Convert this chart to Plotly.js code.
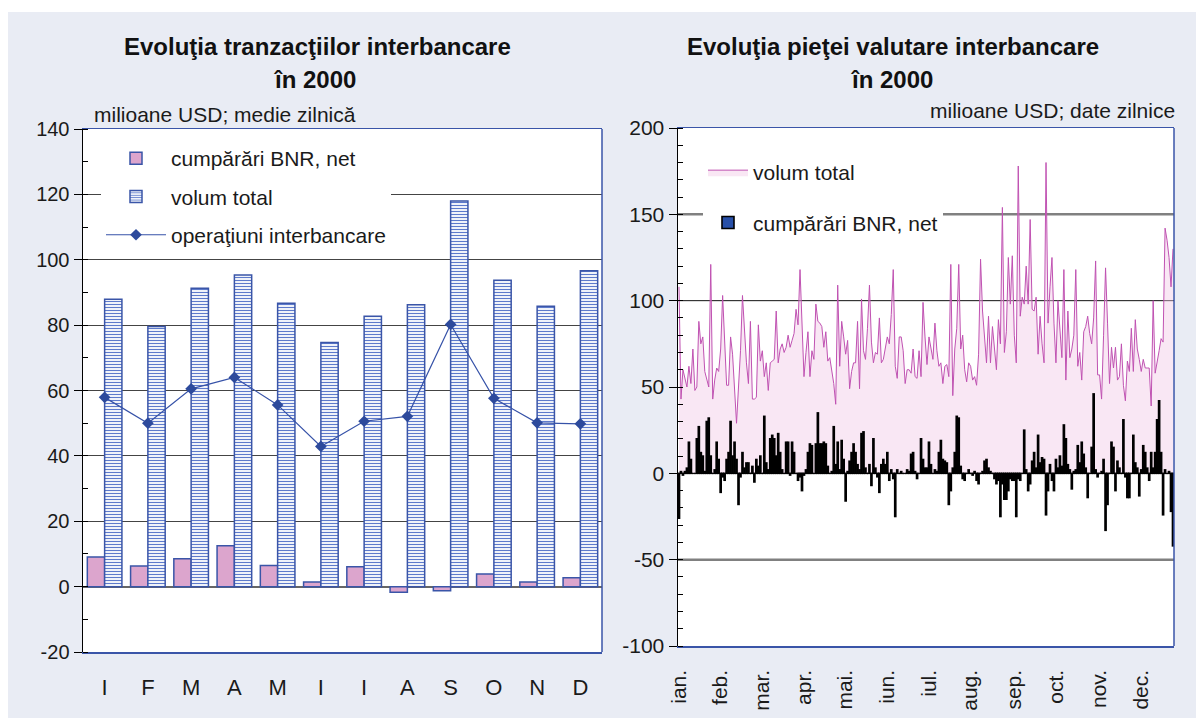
<!DOCTYPE html>
<html><head><meta charset="utf-8">
<script src="https://cdn.plot.ly/plotly-3.0.1.min.js"></script>
<style>html,body{margin:0;padding:0;background:#fff}#chart{width:1196px;height:718px}</style>
</head><body><div id="chart"></div>
<script>
// ---- Left chart: monthly averages ----
const monthsLeft = ['I','F','M','A','M','I','I','A','S','O','N','D'];
const bnrMonthly = [9.1,6.3,8.5,12.5,6.5,1.4,6.1,-1.7,-1.3,3.9,1.4,2.7];
const volMonthly = [87.9,79.6,91.3,95.3,86.7,74.7,82.7,86.2,118,93.7,85.8,96.6];
const interbankMonthly = [57.9,50.0,60.5,64.0,55.6,42.9,50.6,52.1,80.2,57.6,50.1,49.8];
const yTicksLeft = [-20,0,20,40,60,80,100,120,140];

// ---- Right chart: daily data ----
const monthLabels = ['ian.','feb.','mar.','apr.','mai.','iun.','iul.','aug.','sep.','oct.','nov.','dec.'];
const monthDays = [21,21,21,21,21,21,21,22,21,22,21,17];
const yTicksRight = [-100,-50,0,50,100,150,200];
const volDaily = [
108,43,60,54,50,62,52,72,48,50,88,75,79,59,54,50,121,43,54,61,59,72,103,79,51,51,79,69,50,29,50,71,103,80,64,52,88,43,43,44,86,65,71,56,64,48,64,65,66,94,
64,72,75,70,73,80,73,77,81,95,86,118,90,56,70,82,56,71,66,98,88,87,85,73,82,65,67,60,52,40,109,62,88,79,69,77,49,59,64,64,88,49,101,71,66,84,109,76,64,70,
69,90,64,66,72,79,75,92,118,62,55,79,79,71,52,60,60,58,72,56,55,71,56,99,79,63,79,72,66,87,71,62,64,52,62,63,56,121,45,72,84,121,72,80,60,53,64,62,54,56,
51,69,124,94,80,64,91,64,85,71,60,89,75,154,70,82,125,98,126,80,64,178,91,102,98,120,98,147,95,94,102,69,91,75,64,180,87,108,125,87,64,100,81,67,118,54,94,67,72,80,
118,62,70,54,82,85,91,81,75,90,123,57,57,43,80,119,87,52,73,61,73,54,56,75,51,42,65,59,84,59,89,72,66,59,66,61,61,61,39,100,58,66,71,78,76,142,135,125,108,130];
const bnrDaily = [
-26,1,-1,1,3,18,8,0,0,20,27,12,10,1,30,32,10,0,2,18,8,-11,-2,-4,8,12,30,10,18,8,-18,-2,12,3,6,6,0,4,-5,8,4,10,0,33,6,2,20,22,20,10,
23,12,2,0,18,18,-1,18,12,0,-4,-2,-10,-1,2,12,17,16,0,17,35,17,17,18,17,4,0,1,27,5,18,2,19,8,-16,1,7,12,17,12,5,2,23,24,3,0,5,-7,20,3,
-2,-11,5,8,5,12,-4,2,-3,-25,2,0,1,0,0,2,1,11,12,1,-3,0,20,8,3,3,18,5,0,2,1,12,19,8,7,6,-18,-10,3,12,33,32,4,-3,-4,0,2,0,-1,1,
-4,-6,0,1,7,8,3,1,0,-3,-6,-4,-25,-6,-15,-15,-10,-3,-4,-4,-25,-3,-4,0,25,2,-10,-6,7,12,3,22,6,9,8,-24,-10,5,-4,-10,8,3,10,4,28,20,5,2,-9,1,
2,16,6,18,11,3,-14,0,15,46,2,-2,0,1,8,-33,-18,0,18,15,-10,7,3,0,31,-2,-14,-14,0,22,6,3,-13,2,16,12,3,-4,12,3,12,31,42,12,-24,2,0,1,-22,-42];

const W = 1196, H = 718;
const px = v => v / W;
const py = v => 1 - v / H;
const FONT = 'Liberation Sans, Arial, Helvetica, sans-serif';
const TXT = '#1a1a1a';
const BLUE = '#3a55a8';

const monthIdx = monthsLeft.map((_, i) => i);
const dayIdx = volDaily.map((_, i) => i);
const monthStarts = [];
monthDays.reduce((acc, d) => { monthStarts.push(acc); return acc + d; }, 0);

const traces = [
  {type:'bar', name:'cumpărări BNR, net', x:monthIdx, y:bnrMonthly, xaxis:'x', yaxis:'y',
   legend:'legend', legendgroup:'a',
   marker:{color:'#dca5cd', line:{color:BLUE, width:1.5}}},
  {type:'bar', name:'volum total', x:monthIdx, y:volMonthly, xaxis:'x', yaxis:'y',
   legend:'legend', legendgroup:'b',
   marker:{color:'#ffffff', line:{color:BLUE, width:1.5},
     pattern:{shape:'-', fgcolor:'#5d7acb', bgcolor:'#ffffff', size:3, solidity:0.4}}},
  {type:'scatter', mode:'lines+markers', name:'operaţiuni interbancare', x:monthIdx, y:interbankMonthly,
   xaxis:'x', yaxis:'y', legend:'legend', legendgroup:'c',
   line:{color:'#3652a8', width:1.2}, marker:{symbol:'diamond', size:9, color:'#2d4a9c'}},
  {type:'scatter', mode:'lines', name:'volum total', x:dayIdx, y:volDaily, xaxis:'x2', yaxis:'y2',
   legend:'legend2', legendgroup:'d', fill:'tozeroy', fillcolor:'rgba(240,198,228,0.42)',
   line:{color:'#c052b2', width:1}},
  {type:'bar', name:'cumpărări BNR, net', x:dayIdx, y:bnrDaily, xaxis:'x2', yaxis:'y3',
   legend:'legend2', legendgroup:'e', width:0.55,
   marker:{color:'#2850a8', line:{color:'#000', width:1.6}}}
];

const layout = {
  width:W, height:H, autosize:false,
  margin:{l:0,r:0,t:0,b:0},
  paper_bgcolor:'#e9ecf4', plot_bgcolor:'#ffffff',
  font:{family:FONT, color:TXT},
  barmode:'group', bargap:0.2, bargroupgap:0,
  showlegend:true,
  xaxis:{domain:[px(83), px(602)], range:[-0.5, 11.5], tickvals:monthIdx, ticktext:monthsLeft,
    ticks:'', showline:true, linecolor:BLUE, linewidth:1.5, mirror:true, showgrid:false, zeroline:false,
    tickfont:{size:22, color:TXT}, ticklabelstandoff:15},
  yaxis:{domain:[py(652), py(129)], range:[-20,140],
    tickmode:'array', tickvals:yTicksLeft, ticktext:yTicksLeft.map(String),
    ticks:'outside', ticklen:8, tickcolor:'#000', tickwidth:1,
    showline:true, linecolor:'#000', linewidth:1.5,
    showgrid:true, gridcolor:'#444', gridwidth:1,
    zeroline:true, zerolinecolor:'#666', zerolinewidth:2,
    minor:{tickmode:'linear', tick0:0, dtick:10, ticks:'inside', ticklen:5, tickcolor:'#000', showgrid:false},
    tickfont:{size:20, color:TXT}},
  xaxis2:{domain:[px(678), px(1174)], range:[-0.5, volDaily.length-0.5], anchor:'y2',
    tickvals:monthStarts, ticktext:monthLabels, tickangle:-90, ticks:'',
    showline:true, linecolor:BLUE, linewidth:1.5, mirror:true, showgrid:false, zeroline:false,
    tickfont:{size:21, color:TXT}, ticklabelstandoff:14},
  yaxis2:{domain:[py(646), py(128)], range:[-100,200], anchor:'x2',
    tickmode:'array', tickvals:yTicksRight, ticktext:yTicksRight.map(String),
    ticks:'outside', ticklen:8, tickcolor:'#000', tickwidth:1,
    showline:true, linecolor:'#000', linewidth:1.5, showgrid:false,
    zeroline:true, zerolinecolor:'#000', zerolinewidth:1.2,
    minor:{tickmode:'linear', tick0:0, dtick:10, ticks:'inside', ticklen:5, tickcolor:'#000', showgrid:false},
    tickfont:{size:21, color:TXT}},
  yaxis3:{overlaying:'y2', anchor:'x2', range:[-100,200], visible:false, showgrid:false, zeroline:false},
  legend:{x:px(101), y:py(138), xanchor:'left', yanchor:'top', bgcolor:'#ffffff', borderwidth:0,
    font:{size:21, color:TXT}, itemwidth:60, tracegroupgap:8, traceorder:'grouped'},
  legend2:{x:px(703), y:py(152), xanchor:'left', yanchor:'top', bgcolor:'#ffffff', borderwidth:0,
    font:{size:21, color:TXT}, itemwidth:40, tracegroupgap:20, traceorder:'grouped'},
  shapes:[
    {type:'rect', xref:'paper', yref:'paper', x0:0, x1:1, y0:py(12), y1:1, fillcolor:'#ffffff', line:{width:0}, layer:'below'},
    {type:'rect', xref:'paper', yref:'paper', x0:0, x1:px(8), y0:0, y1:1, fillcolor:'#ffffff', line:{width:0}, layer:'below'},
    {type:'line', xref:'x domain', yref:'y domain', x0:1, x1:1, y0:0, y1:1, line:{color:BLUE, width:1.5}},
    {type:'line', xref:'x2 domain', yref:'y2 domain', x0:1, x1:1, y0:0, y1:1, line:{color:BLUE, width:1.5}},
    {type:'line', xref:'x2 domain', yref:'y2', x0:0, x1:1, y0:150, y1:150, line:{color:'#808080', width:2.5}, layer:'below'},
    {type:'line', xref:'x2 domain', yref:'y2', x0:0, x1:1, y0:100, y1:100, line:{color:'#111', width:1}, layer:'below'},
    {type:'line', xref:'x2 domain', yref:'y2', x0:0, x1:1, y0:-50, y1:-50, line:{color:'#808080', width:2.5}, layer:'below'}
  ],
  annotations:[
    {text:'<b>Evoluţia tranzacţiilor interbancare</b>', xref:'paper', yref:'paper', x:px(317), y:py(46),
     xanchor:'center', yanchor:'middle', showarrow:false, font:{size:24, color:'#111'}},
    {text:'<b>în 2000</b>', xref:'paper', yref:'paper', x:px(315), y:py(79),
     xanchor:'center', yanchor:'middle', showarrow:false, font:{size:24, color:'#111'}},
    {text:'<b>Evoluţia pieţei valutare interbancare</b>', xref:'paper', yref:'paper', x:px(893), y:py(46),
     xanchor:'center', yanchor:'middle', showarrow:false, font:{size:24, color:'#111'}},
    {text:'<b>în 2000</b>', xref:'paper', yref:'paper', x:px(892), y:py(79),
     xanchor:'center', yanchor:'middle', showarrow:false, font:{size:24, color:'#111'}},
    {text:'milioane USD; medie zilnică', xref:'paper', yref:'paper', x:px(92), y:py(114),
     xanchor:'left', yanchor:'middle', showarrow:false, font:{size:21, color:TXT}},
    {text:'milioane USD; date zilnice', xref:'paper', yref:'paper', x:px(1177), y:py(110),
     xanchor:'right', yanchor:'middle', showarrow:false, font:{size:21, color:TXT}}
  ]
};

Plotly.newPlot('chart', traces, layout, {displayModeBar:false, staticPlot:true});
</script>
</body></html>
